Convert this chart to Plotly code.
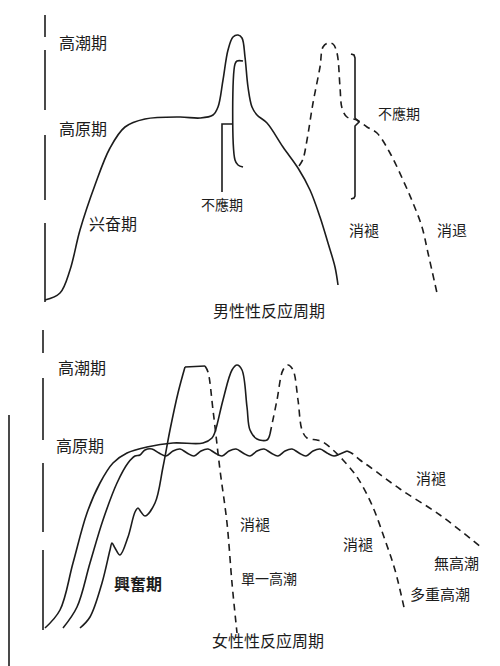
import plotly.graph_objects as go

# ---- male response cycle (top panel), pixel-like diagram coordinates ----
male_x = [45, 60, 70, 80, 95, 110, 125, 145, 180, 200, 213, 218, 223, 228, 233, 238, 242, 245,
          248, 252, 257, 267, 283, 298, 310, 320, 328, 335, 338]
male_y = [300, 293, 270, 230, 185, 148, 127, 119, 117, 118, 115, 107, 80, 50, 37, 35, 38, 57,
          87, 107, 115, 123, 147, 168, 190, 217, 243, 267, 285]

male2_x = [299, 303, 307, 313, 320, 323, 328, 333, 337, 340, 342, 347, 357, 367, 377, 390, 403, 413, 422, 428, 437]
male2_y = [166, 159, 140, 103, 67, 47, 43, 44, 53, 87, 108, 117, 120, 127, 133, 153, 180, 203, 227, 253, 293]

bracket1_x = [222, 222, 233]
bracket1_y = [192, 124, 124]
bracket2_x = [243, 237, 235, 235, 238, 243]
bracket2_y = [61, 61, 64, 160, 165, 167]
brace_x = [351, 354, 355, 355, 359, 355, 355, 354, 351]
brace_y = [54, 55, 58, 118, 122, 126, 196, 198, 199]

# ---- female response cycle (bottom panel) ----
fa_x = [45, 60, 73, 87, 100, 113, 127, 147, 173, 203, 212, 215, 223, 232, 237, 242, 247, 250, 257, 267, 270]
fa_y = [628, 610, 563, 513, 483, 463, 453, 447, 443, 443, 438, 432, 400, 370, 365, 370, 407, 430, 439, 440, 434]
fa2_x = [270, 277, 283, 288, 293, 298, 302, 307, 317, 323, 333, 343, 357, 372, 385, 395, 405]
fa2_y = [434, 400, 370, 365, 370, 400, 430, 438, 440, 442, 450, 460, 477, 505, 540, 570, 612]

fb_x = [63, 77, 90, 103, 117, 128, 135, 140, 145, 152, 159, 166, 173, 180, 187, 194, 201, 208, 215,
        222, 229, 236, 243, 250, 257, 264, 271, 278, 285, 292, 299, 306, 313, 320, 327, 334, 340, 347]
fb_y = [628, 607, 563, 520, 483, 463, 456, 455, 450, 449, 453, 456, 451, 449, 453, 456, 451, 449, 453,
        456, 451, 449, 453, 456, 451, 449, 453, 456, 451, 449, 453, 456, 451, 449, 453, 456, 454, 451]
fb2_x = [347, 353, 360, 370, 400, 440, 482]
fb2_y = [451, 454, 460, 467, 489, 515, 548]

fc_x = [80, 90, 102, 110, 112, 115, 120, 128, 135, 138, 141, 145, 155, 163, 170, 178, 185]
fc_y = [628, 617, 583, 550, 543, 548, 555, 537, 512, 508, 512, 516, 503, 467, 430, 393, 367]
fc_top_x = [185, 205]
fc_top_y = [367, 366]
fc2_x = [205, 208, 213, 220, 227, 232, 237]
fc2_y = [366, 372, 410, 470, 523, 583, 633]

# ---- axis fragments ----
axis_top_x = [45, 45, None, 45, 45, None, 45, 45, None, 45, 45]
axis_top_y = [15, 37, None, 50, 110, None, 135, 200, None, 223, 302]
axis_bot_x = [43, 43, None, 43, 43, None, 43, 43, None, 43, 43, None, 9, 9]
axis_bot_y = [330, 353, None, 378, 440, None, 463, 532, None, 550, 630, None, 415, 666]

# ---- labels ----
labels = ["高潮期", "高原期", "兴奋期", "不應期", "不應期", "消褪", "消退", "男性性反应周期",
          "高潮期", "高原期", "興奮期", "消褪", "單一高潮", "消褪", "消褪", "無高潮", "多重高潮", "女性性反应周期"]
label_x = [83, 83, 113, 222, 399, 364, 452, 269,
           82, 80, 138, 255, 269, 358, 431, 456, 440, 268]
label_y = [42, 128, 223, 204, 113, 229, 229, 310,
           367, 445, 583, 523, 578, 543, 477, 562, 593, 640]
label_size = [16, 16, 16, 14, 14, 15, 15, 16,
              16, 16, 16, 15, 14, 15, 15, 15, 15, 16]

INK = "#1c1c1c"
fig = go.Figure()


def curve(x, y, dash="solid", shape="spline"):
    fig.add_trace(go.Scatter(x=x, y=y, mode="lines", line_shape=shape,
                             line=dict(color=INK, width=1.6, dash=dash),
                             hoverinfo="skip", showlegend=False))


curve(male_x, male_y)
curve(male2_x, male2_y, dash="7px,5px")
curve(bracket1_x, bracket1_y, shape="linear")
curve(bracket2_x, bracket2_y)
curve(brace_x, brace_y, shape="linear")

curve(fa_x, fa_y)
curve(fa2_x, fa2_y, dash="7px,5px")
curve(fb_x, fb_y)
curve(fb2_x, fb2_y, dash="7px,5px")
curve(fc_x, fc_y)
curve(fc_top_x, fc_top_y, shape="linear")
curve(fc2_x, fc2_y, dash="7px,5px")

curve(axis_top_x, axis_top_y, shape="linear")
curve(axis_bot_x, axis_bot_y, shape="linear")

for t, x, y, s in zip(labels, label_x, label_y, label_size):
    bold = t in ("興奮期",)
    fig.add_annotation(x=x, y=y, text=f"<b>{t}</b>" if bold else t, showarrow=False,
                       font=dict(family="Noto Sans CJK SC", size=s, color=INK))

# page body has an 8px margin, so the plot covers 8..500 x 8..666 on screen
fig.update_xaxes(range=[8, 500], visible=False)
fig.update_yaxes(range=[666, 8], visible=False)
fig.update_layout(width=492, height=658, margin=dict(l=0, r=0, t=0, b=0),
                  paper_bgcolor="white", plot_bgcolor="white")

fig.write_html("out.html")
